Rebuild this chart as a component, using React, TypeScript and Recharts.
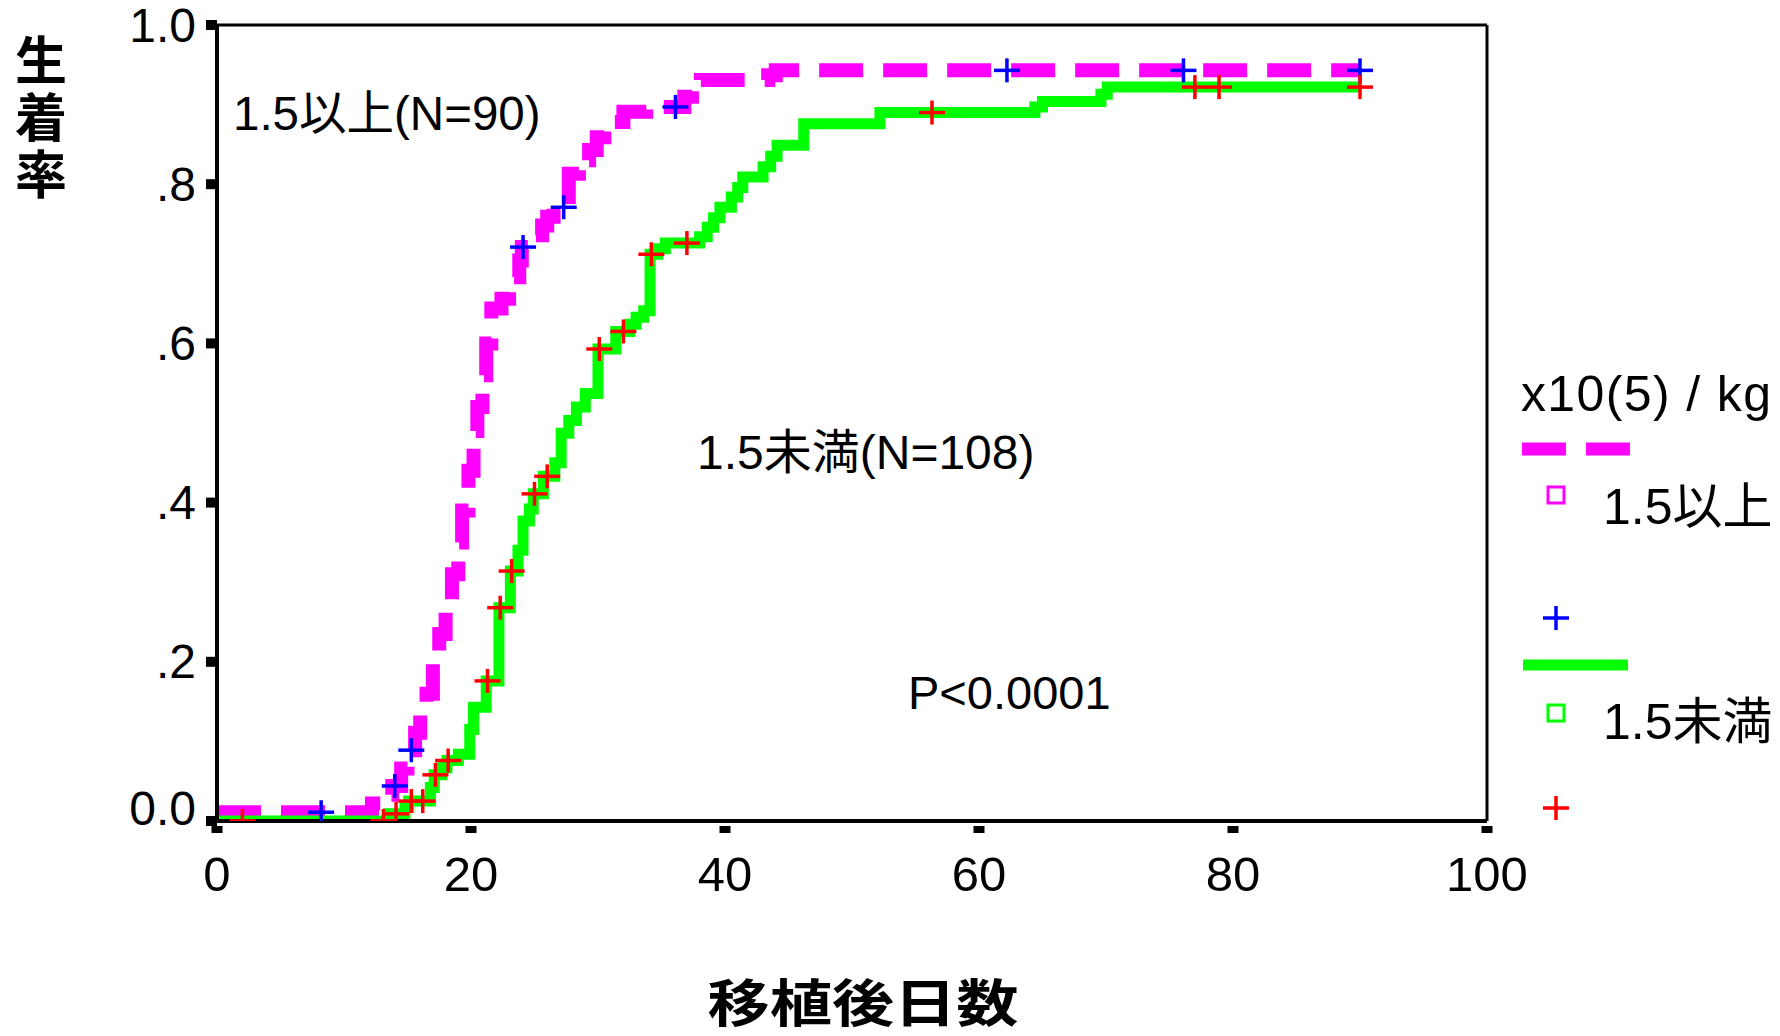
import React from "react";
import { ComposedChart, Line, Scatter, XAxis, YAxis, ReferenceLine } from "recharts";

const xTicks = [0, 20, 40, 60, 80, 100];
const yTicks = [0, 0.2, 0.4, 0.6, 0.8, 1.0];
const yTickLabels = ["0.0", ".2", ".4", ".6", ".8", "1.0"];

// 1.5以上 (N=90): cumulative engraftment, value holds from t on
const highSteps = [
  { t: 0, v: 0.011 }, { t: 12.2, v: 0.022 }, { t: 13.0, v: 0.033 }, { t: 13.8, v: 0.044 },
  { t: 14.5, v: 0.066 }, { t: 15.0, v: 0.089 }, { t: 15.6, v: 0.111 }, { t: 16.0, v: 0.134 },
  { t: 16.5, v: 0.16 }, { t: 17.0, v: 0.203 }, { t: 17.5, v: 0.235 }, { t: 18.0, v: 0.27 },
  { t: 18.5, v: 0.31 }, { t: 19.0, v: 0.35 }, { t: 19.3, v: 0.39 }, { t: 19.8, v: 0.44 },
  { t: 20.2, v: 0.49 }, { t: 20.5, v: 0.52 }, { t: 20.9, v: 0.56 }, { t: 21.2, v: 0.6 },
  { t: 21.6, v: 0.644 }, { t: 22.4, v: 0.656 }, { t: 23.0, v: 0.683 }, { t: 23.8, v: 0.704 },
  { t: 24.0, v: 0.721 }, { t: 24.6, v: 0.736 }, { t: 25.6, v: 0.748 }, { t: 26.0, v: 0.759 },
  { t: 26.5, v: 0.771 }, { t: 27.7, v: 0.813 }, { t: 28.5, v: 0.83 }, { t: 29.3, v: 0.843 },
  { t: 29.9, v: 0.859 }, { t: 30.5, v: 0.872 }, { t: 31.2, v: 0.878 }, { t: 32.0, v: 0.891 },
  { t: 33.8, v: 0.897 }, { t: 36.8, v: 0.91 }, { t: 37.4, v: 0.92 }, { t: 38.1, v: 0.931 },
  { t: 43.4, v: 0.937 }, { t: 44.0, v: 0.943 }, { t: 90.0, v: 0.943 },
];

// 1.5未満 (N=108)
const lowSteps = [
  { t: 0, v: 0 }, { t: 13.5, v: 0.009 }, { t: 14.8, v: 0.017 }, { t: 15.1, v: 0.025 },
  { t: 16.8, v: 0.042 }, { t: 17.1, v: 0.058 }, { t: 17.7, v: 0.067 }, { t: 18.1, v: 0.076 },
  { t: 19.0, v: 0.084 }, { t: 19.9, v: 0.115 }, { t: 20.2, v: 0.143 }, { t: 21.2, v: 0.176 },
  { t: 22.2, v: 0.268 }, { t: 23.1, v: 0.314 }, { t: 23.7, v: 0.34 }, { t: 24.1, v: 0.377 },
  { t: 24.6, v: 0.392 }, { t: 24.9, v: 0.411 }, { t: 25.7, v: 0.433 }, { t: 26.6, v: 0.45 },
  { t: 27.1, v: 0.487 }, { t: 27.7, v: 0.503 }, { t: 28.3, v: 0.52 }, { t: 29.0, v: 0.537 },
  { t: 30.0, v: 0.593 }, { t: 31.4, v: 0.615 }, { t: 32.5, v: 0.624 }, { t: 33.0, v: 0.633 },
  { t: 33.6, v: 0.641 }, { t: 34.1, v: 0.712 }, { t: 34.7, v: 0.719 }, { t: 35.3, v: 0.726 },
  { t: 38.0, v: 0.734 }, { t: 38.6, v: 0.746 }, { t: 39.1, v: 0.758 }, { t: 39.6, v: 0.771 },
  { t: 40.5, v: 0.784 }, { t: 41.0, v: 0.796 }, { t: 41.4, v: 0.809 }, { t: 43.0, v: 0.822 },
  { t: 43.6, v: 0.835 }, { t: 44.1, v: 0.849 }, { t: 46.2, v: 0.876 }, { t: 52.2, v: 0.89 },
  { t: 64.4, v: 0.897 }, { t: 65.0, v: 0.904 }, { t: 69.6, v: 0.913 }, { t: 70.1, v: 0.922 },
  { t: 90.0, v: 0.922 },
];

// censored cases (+)
const highCensor = [
  { t: 8.2, v: 0.011 }, { t: 14.0, v: 0.044 }, { t: 15.3, v: 0.089 }, { t: 24.1, v: 0.721 },
  { t: 27.3, v: 0.771 }, { t: 36.1, v: 0.897 }, { t: 62.2, v: 0.943 }, { t: 76.1, v: 0.943 },
  { t: 90.0, v: 0.943 },
];
const lowCensor = [
  { t: 2.0, v: 0 }, { t: 13.1, v: 0 }, { t: 14.1, v: 0.009 }, { t: 15.3, v: 0.025 },
  { t: 16.2, v: 0.025 }, { t: 17.2, v: 0.058 }, { t: 18.2, v: 0.076 }, { t: 21.3, v: 0.176 },
  { t: 22.3, v: 0.268 }, { t: 23.2, v: 0.314 }, { t: 25.0, v: 0.411 }, { t: 26.0, v: 0.433 },
  { t: 30.1, v: 0.593 }, { t: 32.0, v: 0.615 }, { t: 34.2, v: 0.712 }, { t: 37.0, v: 0.726 },
  { t: 56.3, v: 0.89 }, { t: 77.0, v: 0.922 }, { t: 78.9, v: 0.922 }, { t: 90.0, v: 0.922 },
];

const MAGENTA = "#ff00ff";
const GREEN = "#00ff00";
const BLUE = "#0000ff";
const RED = "#ff0000";
const FONT = "'Liberation Sans', Arial, 'Noto Sans CJK JP', sans-serif";
const CJK = "'Noto Sans CJK JP', sans-serif";

const W = 1780;
const H = 1036;
const LEFT = 217;
const RIGHT = 1487;
const TOP = 25;
const BOTTOM = 821;

function plusShape(color: string) {
  return (p: any) => (
    <g stroke={color} strokeWidth={3.5}>
      <line x1={p.cx - 13} x2={p.cx + 13} y1={p.cy} y2={p.cy} />
      <line x1={p.cx} x2={p.cx} y1={p.cy - 12} y2={p.cy + 12} />
    </g>
  );
}

function XTick(p: any) {
  return (
    <g>
      <rect x={p.x - 5.5} y={BOTTOM + 5} width={11} height={7} fill="#000" />
      <text x={p.x} y={874} textAnchor="middle" dominantBaseline="central" fontSize={49} fontFamily={FONT} fill="#000">
        {p.payload.value}
      </text>
    </g>
  );
}

function YTick(p: any) {
  const i = yTicks.indexOf(p.payload.value);
  const dy = p.payload.value === 0 ? -13 : 0;
  return (
    <g>
      <rect x={LEFT - 11} y={p.y - 5} width={11} height={10} fill="#000" />
      <text x={196} y={p.y + dy} textAnchor="end" dominantBaseline="central" fontSize={48} fontFamily={FONT} fill="#000">
        {yTickLabels[i]}
      </text>
    </g>
  );
}

export default function App() {
  return (
    <div style={{ position: "absolute", left: 0, top: 0, width: W, height: H, background: "#fff" }}>
      <ComposedChart
        width={W}
        height={H}
        margin={{ top: TOP, right: W - RIGHT, bottom: H - BOTTOM - 60, left: LEFT - 90 }}
      >
        <XAxis
          dataKey="t"
          type="number"
          domain={[0, 100]}
          ticks={xTicks}
          height={60}
          allowDataOverflow
          tickLine={false}
          axisLine={{ stroke: "#000", strokeWidth: 4 }}
          tick={<XTick />}
        />
        <YAxis
          dataKey="v"
          type="number"
          domain={[0, 1]}
          ticks={yTicks}
          width={90}
          allowDataOverflow
          tickLine={false}
          axisLine={{ stroke: "#000", strokeWidth: 4 }}
          tick={<YTick />}
        />
        <ReferenceLine y={1} stroke="#000" strokeWidth={3} />
        <ReferenceLine x={100} stroke="#000" strokeWidth={3} />
        <Line
          data={highSteps}
          dataKey="v"
          type="stepAfter"
          stroke={MAGENTA}
          strokeWidth={14}
          strokeDasharray="44 20"
          dot={false}
          isAnimationActive={false}
        />
        <Line
          data={lowSteps}
          dataKey="v"
          type="stepAfter"
          stroke={GREEN}
          strokeWidth={11}
          dot={false}
          isAnimationActive={false}
        />
        <Scatter data={highCensor} dataKey="v" shape={plusShape(BLUE)} isAnimationActive={false} />
        <Scatter data={lowCensor} dataKey="v" shape={plusShape(RED)} isAnimationActive={false} />
      </ComposedChart>

      <svg width={W} height={H} style={{ position: "absolute", left: 0, top: 0, pointerEvents: "none" }}>
        {/* y title, stacked vertically */}
        <text x={41} y={34} style={{ writingMode: "vertical-rl" }} fontSize={52} letterSpacing={5} fontWeight="bold" fontFamily={CJK} fill="#000">
          生着率
        </text>
        <text x={0} y={0} textAnchor="middle" dominantBaseline="central" fontSize={51} fontWeight="bold" fontFamily={CJK} fill="#000" transform="translate(863 1000) scale(1.22 1)">
          移植後日数
        </text>

        {/* annotations */}
        <text x={233} y={113} dominantBaseline="central" fontSize={47.5} fontFamily={FONT} fill="#000">1.5以上(N=90)</text>
        <text x={697} y={452} dominantBaseline="central" fontSize={48} fontFamily={FONT} fill="#000">1.5未満(N=108)</text>
        <text x={908} y={692} dominantBaseline="central" fontSize={47} fontFamily={FONT} fill="#000">P&lt;0.0001</text>

        {/* legend */}
        <text x={1521} y={394} dominantBaseline="central" fontSize={50} fontFamily={FONT} fill="#000" textLength={250} lengthAdjust="spacing">x10(5) / kg</text>
        <line x1={1522} x2={1630} y1={449} y2={449} stroke={MAGENTA} strokeWidth={13} strokeDasharray="44 20" />
        <rect x={1548} y={487} width={16} height={16} fill="none" stroke={MAGENTA} strokeWidth={3} />
        <text x={1603} y={507} dominantBaseline="central" fontSize={50} fontFamily={FONT} fill="#000">1.5以上</text>
        <g stroke={BLUE} strokeWidth={3.5}>
          <line x1={1543} x2={1569} y1={618} y2={618} />
          <line x1={1556} x2={1556} y1={606} y2={630} />
        </g>
        <line x1={1523} x2={1628} y1={665} y2={665} stroke={GREEN} strokeWidth={11} />
        <rect x={1548} y={705} width={16} height={16} fill="none" stroke={GREEN} strokeWidth={3} />
        <text x={1603} y={722} dominantBaseline="central" fontSize={50} fontFamily={FONT} fill="#000">1.5未満</text>
        <g stroke={RED} strokeWidth={3.5}>
          <line x1={1543} x2={1569} y1={808} y2={808} />
          <line x1={1556} x2={1556} y1={796} y2={820} />
        </g>
      </svg>
    </div>
  );
}
